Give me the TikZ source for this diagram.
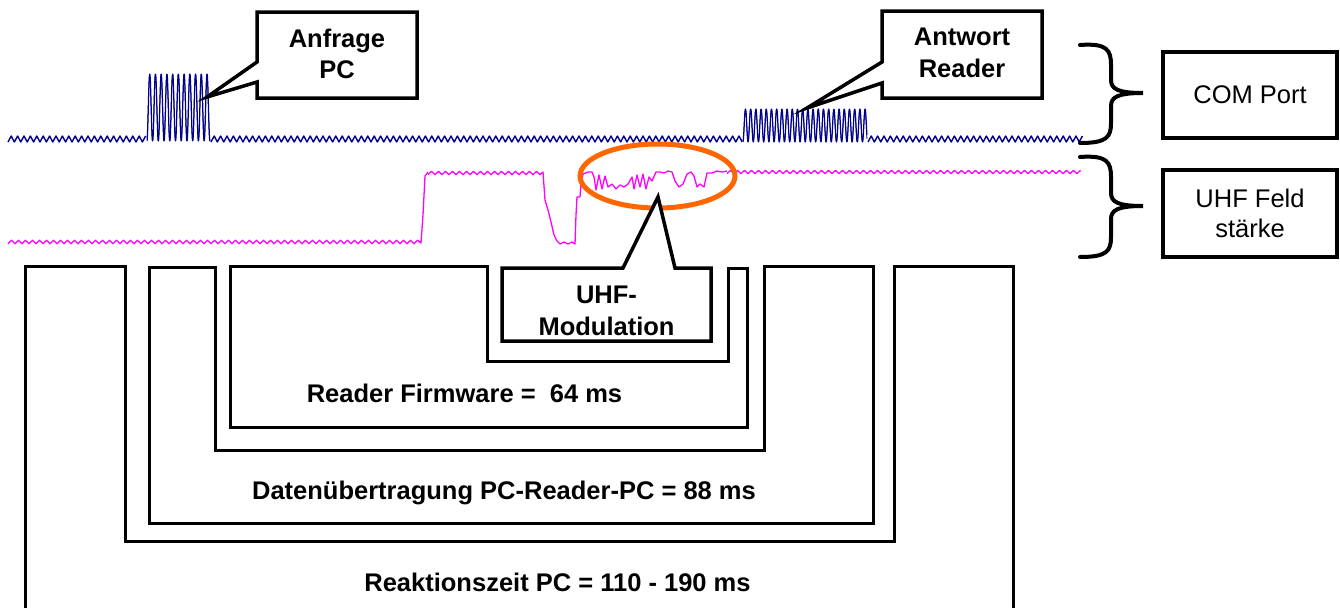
\documentclass[tikz,border=0pt]{standalone}
\usepackage{fontspec}
\setmainfont{Liberation Sans}
\definecolor{wblue}{RGB}{0,0,140}
\definecolor{wmag}{RGB}{255,0,255}
\definecolor{worange}{RGB}{255,102,0}
\begin{document}
\begin{tikzpicture}[x=1pt,y=-1pt,
  ushape/.style={draw=black,line width=3pt,line join=miter},
  callout/.style={draw=black,line width=3.5pt,fill=white,line join=miter},
  sidebox/.style={draw=black,line width=4pt,minimum width=174pt},
  brace/.style={draw=black,line width=4pt,line cap=round},
  boldlbl/.style={font=\bfseries\fontsize{25.5}{31.5}\selectfont,inner sep=0pt,align=center},
  plainlbl/.style={font=\fontsize{25.5}{30.5}\selectfont,inner sep=0pt,align=center},
  bluewave/.style={draw=wblue,line width=1.4pt,line join=round},
  magwave/.style={draw=wmag,line width=1.3pt,line join=round},
  ring/.style={draw=worange,line width=5pt}]
\useasboundingbox[fill=white] (0,0) rectangle (1340,608);

% ---------- COM port signal (blue) ----------
\draw[bluewave] plot[domain=0:43,samples=44] ({8+\x*3.2},{139+3*cos(mod(\x,2)*180)});
\draw[bluewave,line width=1pt] plot[domain=147:210,samples=260] (\x,{107.5+33.5*cos((\x-147)*62.83)});
\draw[bluewave,line width=0.8pt] plot[domain=147:210,samples=260] (\x,{107.5+33.5*cos((\x-147)*62.83+22)});
\draw[bluewave] plot[domain=0:166,samples=167] ({211+\x*3.2},{139+3*cos(mod(\x,2)*180)});
\draw[bluewave,line width=1pt] plot[domain=743:867,samples=420] (\x,{125.5+16.5*cos((\x-743)*69.23)});
\draw[bluewave,line width=0.8pt] plot[domain=743:867,samples=420] (\x,{125.5+16.5*cos((\x-743)*69.23+22)});
\draw[bluewave] plot[domain=0:67,samples=68] ({868+\x*3.2},{139+3*cos(mod(\x,2)*180)});

% ---------- UHF field strength (magenta) ----------
\draw[magwave] plot[domain=0:117,samples=118] ({8+\x*3.5},{242+1.8*cos(mod(\x,2)*180)})
  -- (421,243) -- (423,215) -- (425,176) -- (428,172);
\draw[magwave] plot[domain=0:32,samples=33] ({428+\x*3.5},{173+1.6*cos(mod(\x,2)*180)})
  -- (543,172) -- (545,200) -- (548,210) -- (551,222) -- (554,235) -- (557,241)
  -- (560,244) -- (564,242) -- (568,244) -- (572,242) -- (575,244)
  -- (576,215) -- (577,197) -- (580,197) -- (581,184) -- (583,174) -- (588,172)
  -- (592,172) -- (594,177) -- (596,190) -- (599,175) -- (602,189) -- (605,176)
  -- (608,187) -- (612,184) -- (616,189) -- (620,185) -- (624,187) -- (628,184)
  -- (632,177) -- (634,189) -- (637,175) -- (640,187) -- (643,174) -- (646,189)
  -- (649,177) -- (652,181) -- (656,172) -- (660,172) -- (664,173) -- (668,171)
  -- (672,172) -- (675,181) -- (679,187) -- (683,184) -- (687,174) -- (691,172)
  -- (694,176) -- (697,187) -- (700,184) -- (704,187) -- (707,173) -- (712,173)
  -- (717,171) -- (722,172) -- (727,171);
\draw[magwave] plot[domain=0:101,samples=102] ({727+\x*3.5},{172+1.6*cos(mod(\x,2)*180)});

% ---------- orange ring ----------
\draw[ring] (657.5,176) ellipse [x radius=77.5pt, y radius=32pt];

% ---------- callouts ----------
\draw[callout] (257,12) -- (417,12) -- (417,98) -- (257,98) -- (257,82) -- (207,97) -- (257,62) -- cycle;
\node[boldlbl] (anfrage) at (337,54) {Anfrage\\PC};

\draw[callout] (882,11) -- (1042,11) -- (1042,98) -- (882,98) -- (882,83) -- (807,108) -- (882,62) -- cycle;
\node[boldlbl] (antwort) at (962,53) {Antwort\\Reader};

% ---------- nested brackets ----------
\draw[ushape] (25,608) -- (25,266) -- (125,266) -- (125,541) -- (894,541) -- (894,266) -- (1013,266) -- (1013,608);
\draw[ushape] (149,267) -- (215,267) -- (215,450) -- (764,450) -- (764,266) -- (873,266) -- (873,523) -- (149,523) -- cycle;
\draw[ushape] (230,266) -- (487,266) -- (487,361) -- (728,361) -- (728,268) -- (747,268) -- (747,427) -- (230,427) -- cycle;

\draw[callout] (502,268) -- (623,268) -- (658,197) -- (675,268) -- (711,268) -- (711,341) -- (502,341) -- cycle;
\node[boldlbl] (uhfmod) at (606.5,311) {UHF-\\Modulation};

\node[boldlbl,anchor=base] (firmware) at (464.5,402) {Reader Firmware =\ \ 64 ms};
\node[boldlbl,anchor=base] (daten) at (504,499) {Datenübertragung PC-Reader-PC = 88 ms};
\node[boldlbl,anchor=base] (reaktion) at (557.5,591) {Reaktionszeit PC = 110 - 190 ms};

% ---------- braces and side boxes ----------
\draw[brace] (1080,45) .. controls (1107,43) and (1111,50) .. (1111,65) -- (1111,80)
  .. controls (1111,89) and (1118,93) .. (1143,93)
  .. controls (1118,93) and (1111,97) .. (1111,106) -- (1111,123)
  .. controls (1111,137) and (1107,143) .. (1080,143);
\draw[brace] (1080,157) .. controls (1107,155) and (1111,162) .. (1111,177) -- (1111,193)
  .. controls (1111,202) and (1118,206) .. (1143,206)
  .. controls (1118,206) and (1111,210) .. (1111,219) -- (1111,237)
  .. controls (1111,251) and (1107,257) .. (1080,257);

\node[sidebox,plainlbl,minimum width=174pt,minimum height=86pt] (com) at (1250,95) {COM Port};
\node[sidebox,plainlbl,minimum width=174pt,minimum height=87pt] (uhf) at (1250,213.5) {UHF Feld\\stärke};
\end{tikzpicture}
\end{document}
